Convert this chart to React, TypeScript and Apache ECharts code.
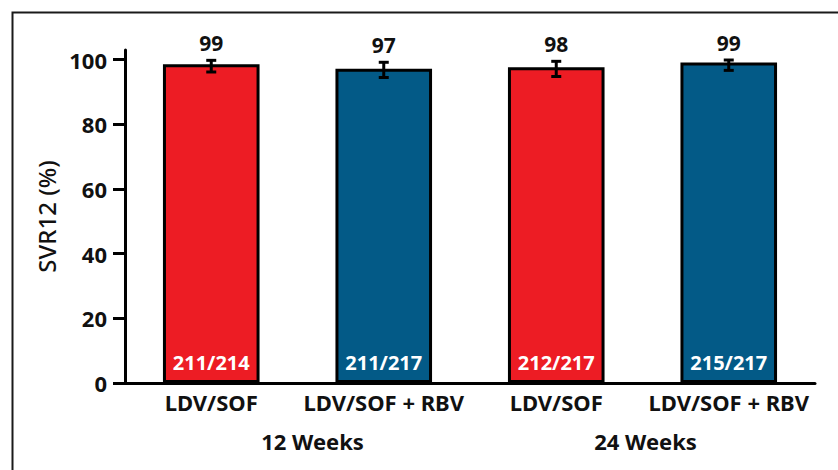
import React, { useEffect, useRef } from "react";
import * as echarts from "echarts";

const categories = ["LDV/SOF", "LDV/SOF + RBV", "LDV/SOF", "LDV/SOF + RBV"];
const groups = ["12 Weeks", "24 Weeks"];
const svrValues = [98.6, 97.2, 97.7, 99.1];
const ciLower = [96.2, 94.5, 94.8, 96.7];
const ciUpper = [99.8, 99.2, 99.5, 99.9];
const topLabels = ["99", "97", "98", "99"];
const fractionLabels = ["211/214", "211/217", "212/217", "215/217"];
const barColors = ["#ED1C24", "#035A87", "#ED1C24", "#035A87"];
const yTicks = [0, 20, 40, 60, 80, 100];

const FONT = "'Noto Sans', 'Open Sans', sans-serif";

export default function App() {
  const ref = useRef<HTMLDivElement>(null);
  useEffect(() => {
    document.body.style.margin = "0";
    if (!ref.current) return;
    const chart = echarts.init(ref.current, undefined, { renderer: "svg" });
    const option = {
      animation: false,
      backgroundColor: "#fff",
      textStyle: { fontFamily: FONT },
      grid: { left: 125, right: 23, top: 50, bottom: 87, outerBoundsMode: "none", containLabel: false },
      graphic: [
        {
          type: "rect",
          left: 10,
          top: 10,
          shape: { width: 900, height: 600 },
          style: { fill: "none", stroke: "#1a1a1a", lineWidth: 2 },
          silent: true,
          z: 100,
        },
      ],
      xAxis: [
        {
          type: "category",
          data: categories,
          axisLine: { show: true, lineStyle: { color: "#000", width: 3 } },
          axisTick: { show: false },
          axisLabel: {
            margin: 8,
            color: "#111",
            fontSize: 22,
            fontWeight: "bold",
            fontFamily: FONT,
            interval: 0,
          },
        },
        {
          type: "category",
          data: groups,
          position: "bottom",
          offset: 39,
          axisLine: { show: false },
          axisTick: { show: false },
          axisLabel: {
            margin: 8,
            color: "#111",
            fontSize: 22,
            fontWeight: "bold",
            fontFamily: FONT,
            interval: 0,
            formatter: (v: string, i: number) => (i === 0 ? "{a|" + v + "}" : "{b|" + v + "}"),
            rich: {
              a: { fontSize: 22, fontWeight: "bold", color: "#111", fontFamily: FONT, padding: [0, 0, 0, 30] },
              b: { fontSize: 22, fontWeight: "bold", color: "#111", fontFamily: FONT, padding: [0, 0, 0, 6] },
            },
          },
        },
      ],
      yAxis: {
        type: "value",
        min: 0,
        max: 103,
        name: "SVR12 (%)",
        nameLocation: "middle",
        nameGap: 53,
        nameRotate: 90,
        nameTextStyle: { fontSize: 24, color: "#111", fontFamily: FONT, fontWeight: 500 },
        axisLine: { show: true, lineStyle: { color: "#000", width: 3 } },
        axisTick: { show: true, length: 12, lineStyle: { color: "#000", width: 3 }, customValues: yTicks },
        axisLabel: {
          margin: 18,
          color: "#111",
          fontSize: 22,
          fontWeight: "bold",
          fontFamily: FONT,
          customValues: yTicks,
        },
        splitLine: { show: false },
      },
      series: [
        {
          type: "bar",
          xAxisIndex: 0,
          barWidth: "56%",
          data: svrValues.map((v, i) => ({
            value: v,
            itemStyle: { color: barColors[i], borderColor: "#000", borderWidth: 3 },
          })),
          label: {
            show: true,
            position: "insideBottom",
            distance: 11,
            color: "#fff",
            fontSize: 20,
            fontWeight: "bold",
            fontFamily: FONT,
            formatter: (p: any) => fractionLabels[p.dataIndex],
          },
          z: 2,
        },
        {
          type: "custom",
          xAxisIndex: 0,
          z: 5,
          data: svrValues.map((_, i) => [i, ciLower[i], ciUpper[i]]),
          renderItem: (params: any, api: any) => {
            const i = params.dataIndex;
            const lo = api.coord([api.value(0), api.value(1)]);
            const hi = api.coord([api.value(0), api.value(2)]);
            const cap = 5;
            const st = { stroke: "#000", lineWidth: 3 };
            return {
              type: "group",
              children: [
                { type: "line", shape: { x1: lo[0], y1: lo[1], x2: hi[0], y2: hi[1] }, style: st },
                { type: "line", shape: { x1: lo[0] - cap, y1: lo[1], x2: lo[0] + cap, y2: lo[1] }, style: st },
                { type: "line", shape: { x1: hi[0] - cap, y1: hi[1], x2: hi[0] + cap, y2: hi[1] }, style: st },
                {
                  type: "text",
                  x: hi[0],
                  y: hi[1] - 17,
                  style: {
                    text: topLabels[i],
                    align: "center",
                    verticalAlign: "middle",
                    fill: "#111",
                    fontSize: 21,
                    fontWeight: "bold",
                    fontFamily: FONT,
                  },
                },
              ],
            };
          },
        },
      ],
    };
    chart.setOption(option as any);
    return () => chart.dispose();
  }, []);
  return <div ref={ref} style={{ width: 838, height: 470 }} />;
}
